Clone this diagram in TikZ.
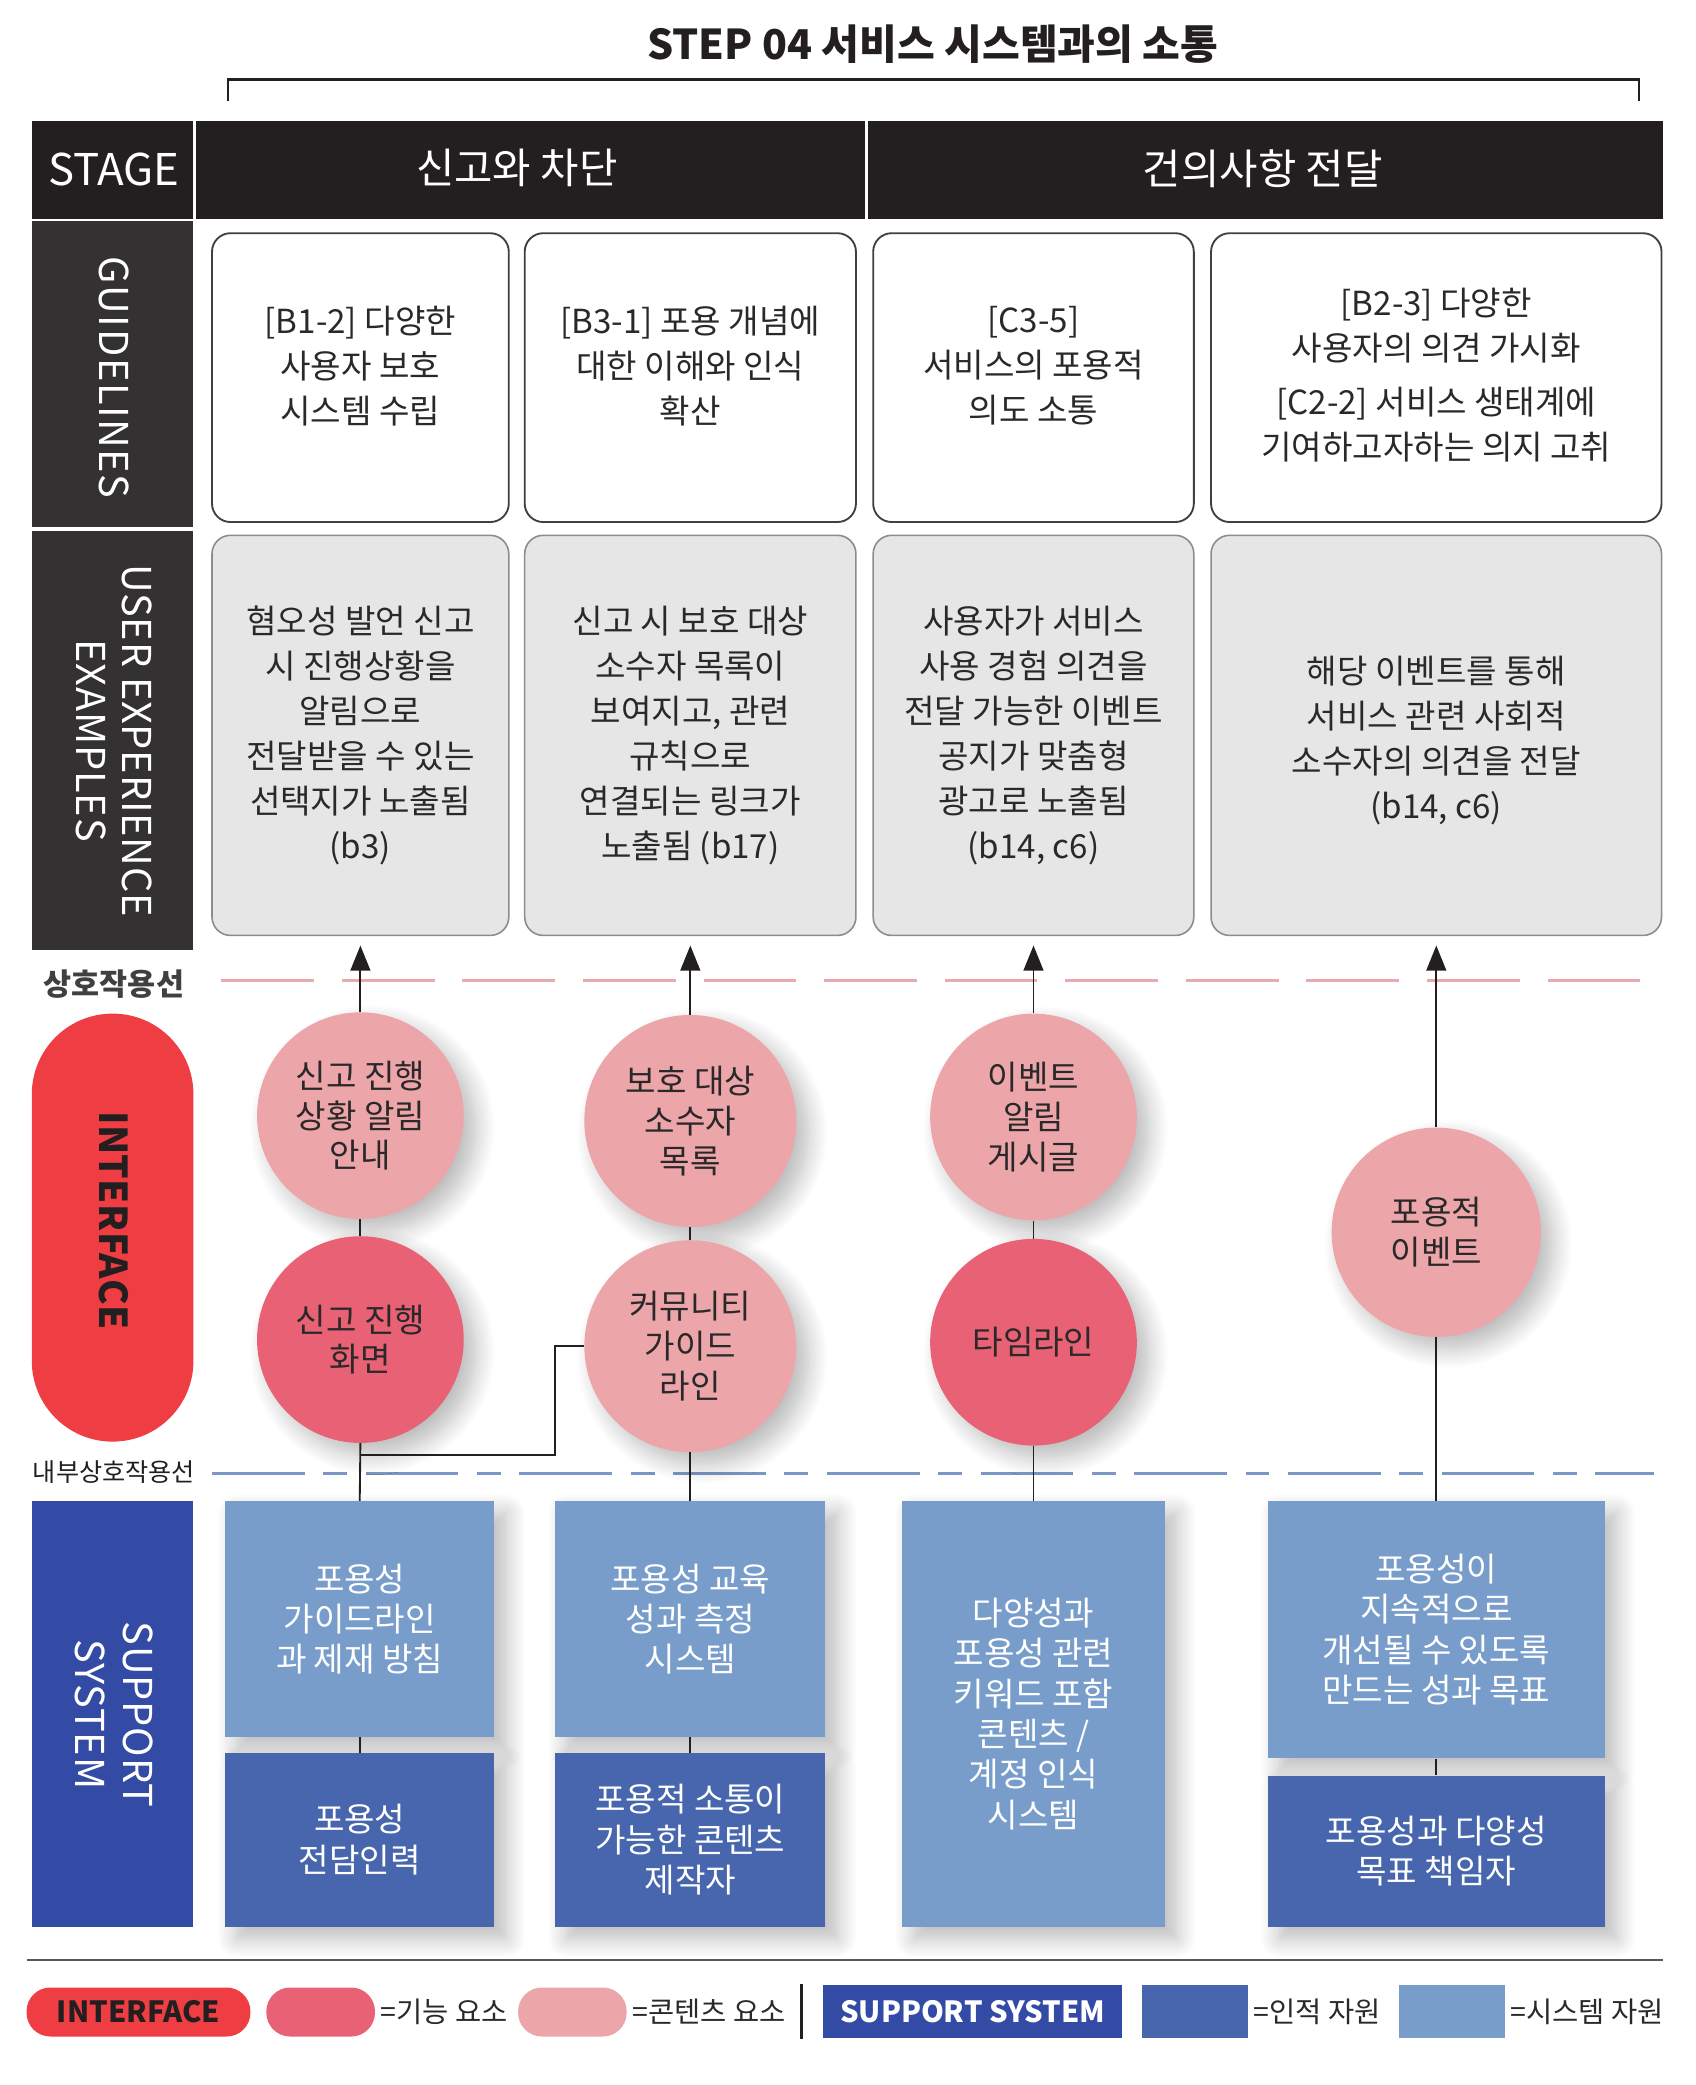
\documentclass[tikz,border=0pt]{standalone}
\usepackage{fontspec}
\setmainfont{Noto Sans CJK KR}
\usetikzlibrary{shadows.blur,arrows.meta}
\definecolor{hdr}{HTML}{231F20}
\definecolor{lab}{HTML}{333132}
\definecolor{txt}{HTML}{2B2829}
\definecolor{uxfill}{HTML}{E6E6E6}
\definecolor{uxline}{HTML}{8C8C8C}
\definecolor{gline}{HTML}{404040}
\definecolor{pinkline}{HTML}{E9AAAF}
\definecolor{blueline}{HTML}{7B97C6}
\definecolor{ifred}{HTML}{EE3D43}
\definecolor{fpink}{HTML}{E86175}
\definecolor{cpink}{HTML}{ECA6AA}
\definecolor{ssblue}{HTML}{344BA6}
\definecolor{hblue}{HTML}{4766AD}
\definecolor{lblue}{HTML}{789DCB}
\tikzset{
  myshadow/.style={blur shadow={shadow xshift=9pt, shadow yshift=-9pt, shadow blur radius=15pt, shadow blur steps=12, shadow opacity=28}},
  gbox/.style={draw=gline, line width=1.4pt, fill=white, rounded corners=14pt, inner sep=0pt},
  gtext/.style={align=center, text=txt, font=\fontsize{25}{34}\selectfont, inner sep=0pt},
  uxbox/.style={draw=uxline, line width=1.2pt, fill=uxfill, rounded corners=14pt, inner sep=0pt, minimum height=302pt},
  circ/.style={circle, inner sep=0pt, align=center, text=txt, font=\fontsize{25}{30}\selectfont, myshadow},
  sbox/.style={inner sep=0pt, align=center, text=white, font=\fontsize{25}{30.5}\selectfont, myshadow},
  arr/.style={-{Triangle[width=15pt,length=19pt]}, line width=1.4pt, draw=hdr, shorten >=7pt},
  conn/.style={line width=1.4pt, draw=hdr},
  hdrtext/.style={text=white, font=\fontsize{31.5}{36}\selectfont, inner sep=0pt},
  sidelab/.style={text=white, rotate=-90, align=center, inner sep=0pt},
  legtext/.style={anchor=west, text=txt, font=\fontsize{21.5}{24}\selectfont, inner sep=0pt},
  legbox/.style={minimum height=37pt, inner sep=0pt, rounded corners=18pt}
}
\begin{document}
\begin{tikzpicture}[x=1pt,y=-1pt]
\useasboundingbox (0,0) rectangle (1280,1573.6);
% title and bracket
\node[text=hdr, font=\fontsize{31}{36}\selectfont\bfseries, inner sep=0pt] (title) at (704,33) {STEP 04 서비스 시스템과의 소통};
\draw[line width=2pt, draw=hdr] (172,76) -- (172,60) -- (1237,60) -- (1237,76);
% stage header
\fill[hdr] (24,91) rectangle (146,165);
\fill[hdr] (148,91) rectangle (653,165);
\fill[hdr] (655,91) rectangle (1255,165);
\node[hdrtext, font=\fontsize{33}{36}\selectfont] (stage) at (86,128) {STAGE};
\node[hdrtext] (st1) at (390,127) {신고와 차단};
\node[hdrtext] (st2) at (953,127) {건의사항 전달};
% left labels
\fill[lab] (24,167) rectangle (146,398);
\node[sidelab, font=\fontsize{30}{35}\selectfont\addfontfeatures{LetterSpace=4}] (glab) at (86,285) {GUIDELINES};
\fill[lab] (24,401) rectangle (146,717);
\node[sidelab, font=\fontsize{30}{35}\selectfont\addfontfeatures{LetterSpace=2}] (uxlab) at (86,559) {USER EXPERIENCE\\EXAMPLES};
% guideline boxes
\node[gbox, minimum width=224pt, minimum height=218pt] (g1) at (272,285) {};
\node[gbox, minimum width=250pt, minimum height=218pt] (g2) at (521,285) {};
\node[gbox, minimum width=242pt, minimum height=218pt] (g3) at (780,285) {};
\node[gbox, minimum width=340pt, minimum height=218pt] (g4) at (1084,285) {};
\node[gtext] (gt1) at (272,276) {[B1-2] 다양한\\사용자 보호\\시스템 수립};
\node[gtext] (gt2) at (521,276) {[B3-1] 포용 개념에\\대한 이해와 인식\\확산};
\node[gtext] (gt3) at (780,276) {[C3-5]\\서비스의 포용적\\의도 소통};
\node[gtext] (gt4) at (1084,283) {[B2-3] 다양한\\사용자의 의견 가시화\\[7pt][C2-2] 서비스 생태계에\\기여하고자하는 의지 고취};
% UX boxes
\node[uxbox, minimum width=224pt] (ux1) at (272,555) {};
\node[uxbox, minimum width=250pt] (ux2) at (521,555) {};
\node[uxbox, minimum width=242pt] (ux3) at (780,555) {};
\node[uxbox, minimum width=340pt] (ux4) at (1084,555) {};
\node[gtext] (ut1) at (272,555) {혐오성 발언 신고\\시 진행상황을\\알림으로\\전달받을 수 있는\\선택지가 노출됨\\(b3)};
\node[gtext] (ut2) at (521,555) {신고 시 보호 대상\\소수자 목록이\\보여지고, 관련\\규칙으로\\연결되는 링크가\\노출됨 (b17)};
\node[gtext] (ut3) at (780,555) {사용자가 서비스\\사용 경험 의견을\\전달 가능한 이벤트\\공지가 맞춤형\\광고로 노출됨\\(b14, c6)};
\node[gtext] (ut4) at (1084,559) {해당 이벤트를 통해\\서비스 관련 사회적\\소수자의 의견을 전달\\(b14, c6)};
% interaction lines
\node[text=gline, font=\fontsize{23}{26}\selectfont\bfseries, inner sep=0pt] (l1) at (86,743) {상호작용선};
\draw[draw=pinkline, line width=1.6pt, dash pattern=on 70pt off 21pt] (167,740) -- (1240,740);
\node[text=hdr, font=\fontsize{19}{22}\selectfont, inner sep=0pt] (l2) at (86,1111) {내부상호작용선};
\draw[draw=blueline, line width=2pt, dash pattern=on 70pt off 14pt on 18pt off 14pt] (160,1112) -- (1248,1112);
% interface pill
\fill[ifred] (24,765) [rounded corners=60.9pt] rectangle (146,1088);
\node[text=hdr, rotate=-90, inner sep=0pt, font=\fontsize{29}{36}\selectfont\bfseries\addfontfeatures{LetterSpace=1}] (iflab) at (86,921) {INTERFACE};
% support left label
\fill[ssblue] (24,1133) rectangle (146,1454);
\node[sidelab, font=\fontsize{30}{36}\selectfont\addfontfeatures{LetterSpace=2}] (sslab) at (86,1294) {SUPPORT\\SYSTEM};
% circles
\node[circ, fill=cpink, minimum size=156pt] (c1a) at (272,842) {신고 진행\\상황 알림\\안내};
\node[circ, fill=fpink, minimum size=156pt] (c1b) at (272,1011) {신고 진행\\화면};
\node[circ, fill=cpink, minimum size=160pt] (c2a) at (521,846) {보호 대상\\소수자\\목록};
\node[circ, fill=cpink, minimum size=160pt] (c2b) at (521,1016) {커뮤니티\\가이드\\라인};
\node[circ, fill=cpink, minimum size=156pt] (c3a) at (780,843) {이벤트\\알림\\게시글};
\node[circ, fill=fpink, minimum size=156pt] (c3b) at (780,1013) {타임라인};
\node[circ, fill=cpink, minimum size=158pt] (c4a) at (1084,930) {포용적\\이벤트};
% support boxes
\node[sbox, fill=lblue, minimum width=203pt, minimum height=178pt] (s1a) at (271.5,1222) {포용성\\가이드라인\\과 제재 방침};
\node[sbox, fill=hblue, minimum width=203pt, minimum height=131pt] (s1b) at (271.5,1388.5) {포용성\\전담인력};
\node[sbox, fill=lblue, minimum width=204pt, minimum height=178pt] (s2a) at (521,1222) {포용성 교육\\성과 측정\\시스템};
\node[sbox, fill=hblue, minimum width=204pt, minimum height=131pt] (s2b) at (521,1388.5) {포용적 소통이\\가능한 콘텐츠\\제작자};
\node[sbox, fill=lblue, minimum width=198pt, minimum height=321pt] (s3) at (780,1293.5) {다양성과\\포용성 관련\\키워드 포함\\콘텐츠 /\\계정 인식\\시스템};
\node[sbox, fill=lblue, minimum width=254pt, minimum height=194pt] (s4a) at (1084,1230) {포용성이\\지속적으로\\개선될 수 있도록\\만드는 성과 목표};
\node[sbox, fill=hblue, minimum width=254pt, minimum height=114pt] (s4b) at (1084,1397) {포용성과 다양성\\목표 책임자};
% connectors
\draw[arr] (c1a.north) -- (ux1.south);
\draw[arr] (c2a.north) -- (ux2.south);
\draw[arr] (c3a.north) -- (ux3.south);
\draw[arr] (c4a.north) -- (ux4.south);
\draw[conn] (c1a.south) -- (c1b.north);
\draw[conn] (c2a.south) -- (c2b.north);
\draw[conn] (c3a.south) -- (c3b.north);
\draw[conn] (c1b.south) -- (s1a.north);
\draw[conn] (c2b.south) -- (s2a.north);
\draw[conn] (c3b.south) -- (s3.north);
\draw[conn] (c4a.south) -- (s4a.north);
\draw[conn] (s1a.south) -- (s1b.north);
\draw[conn] (s2a.south) -- (s2b.north);
\draw[conn] (s4a.south) -- (s4b.north);
\coordinate (j1) at (272,1098);
\draw[conn] (j1) -- ++(147,0) |- (c2b.west);
% separator
\draw[draw=black!65, line width=1.5pt] (20,1479) -- (1255,1479);
% legend
\node[legbox, fill=ifred, minimum width=169pt, text=hdr, font=\fontsize{22}{24}\selectfont\bfseries] (lg1) at (104.5,1518.5) {INTERFACE};
\node[legbox, fill=fpink, minimum width=82pt] (lg2) at (242,1518.5) {};
\node[legtext] (lt2) at (287,1518) {=기능 요소};
\node[legbox, fill=cpink, minimum width=82pt] (lg3) at (432,1518.5) {};
\node[legtext] (lt3) at (477,1518) {=콘텐츠 요소};
\draw[draw=hdr, line width=2pt] (605,1497) -- (605,1539);
\node[fill=ssblue, minimum width=226pt, minimum height=40pt, inner sep=0pt, text=white, font=\fontsize{22}{24}\selectfont\bfseries] (lg4) at (734,1518) {SUPPORT SYSTEM};
\node[fill=hblue, minimum width=80pt, minimum height=40pt, inner sep=0pt] (lg5) at (902,1518) {};
\node[legtext] (lt5) at (946,1518) {=인적 자원};
\node[fill=lblue, minimum width=80pt, minimum height=40pt, inner sep=0pt] (lg6) at (1096,1518) {};
\node[legtext] (lt6) at (1140,1518) {=시스템 자원};
\end{tikzpicture}
\end{document}
